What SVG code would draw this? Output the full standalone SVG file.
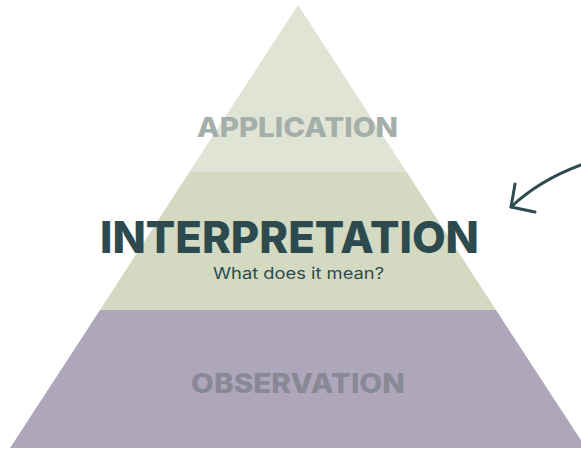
<svg xmlns="http://www.w3.org/2000/svg" width="581" height="449" viewBox="0 0 581 449">
  <style>
    .label { font-family: Inter, "Open Sans", "Liberation Sans", sans-serif; font-weight: 800; text-anchor: middle; }
    .sub { font-family: Inter, "Open Sans", "Liberation Sans", sans-serif; font-weight: 400; text-anchor: middle; fill: #2d4a4e; }
    .conn { fill: none; stroke: #2d4a4e; stroke-width: 3; stroke-linecap: round; stroke-linejoin: round; }
  </style>
  <rect width="581" height="449" fill="#ffffff"/>

  <!-- Top tier -->
  <g id="application">
    <polygon points="298,5 189.4,172 406.6,172" fill="#e0e4d4"/>
    <text class="label" x="297.5" y="137" font-size="27" fill="#a4aeaa" textLength="201" lengthAdjust="spacingAndGlyphs">APPLICATION</text>
  </g>

  <!-- Middle tier -->
  <g id="interpretation">
    <polygon points="189.4,172 406.6,172 496,310 100,310" fill="#d3dac1"/>
    <text class="label" x="289.5" y="253" font-size="44" fill="#2d4a4e" textLength="379" lengthAdjust="spacingAndGlyphs">INTERPRETATION</text>
    <text class="sub" x="298.5" y="279" font-size="15.5" textLength="171" lengthAdjust="spacingAndGlyphs">What does it mean?</text>
  </g>

  <!-- Bottom tier -->
  <g id="observation">
    <polygon points="100,310 496,310 586,448 10,448" fill="#aea7bc"/>
    <text class="label" x="298" y="393" font-size="27" fill="#898996" textLength="214" lengthAdjust="spacingAndGlyphs">OBSERVATION</text>
  </g>

  <!-- Pointer arrow -->
  <g id="connectors">
    <path class="conn" d="M581,165 Q540,180 511,207"/>
    <path class="conn" d="M515,184 L511,207 L535,212"/>
  </g>
</svg>
